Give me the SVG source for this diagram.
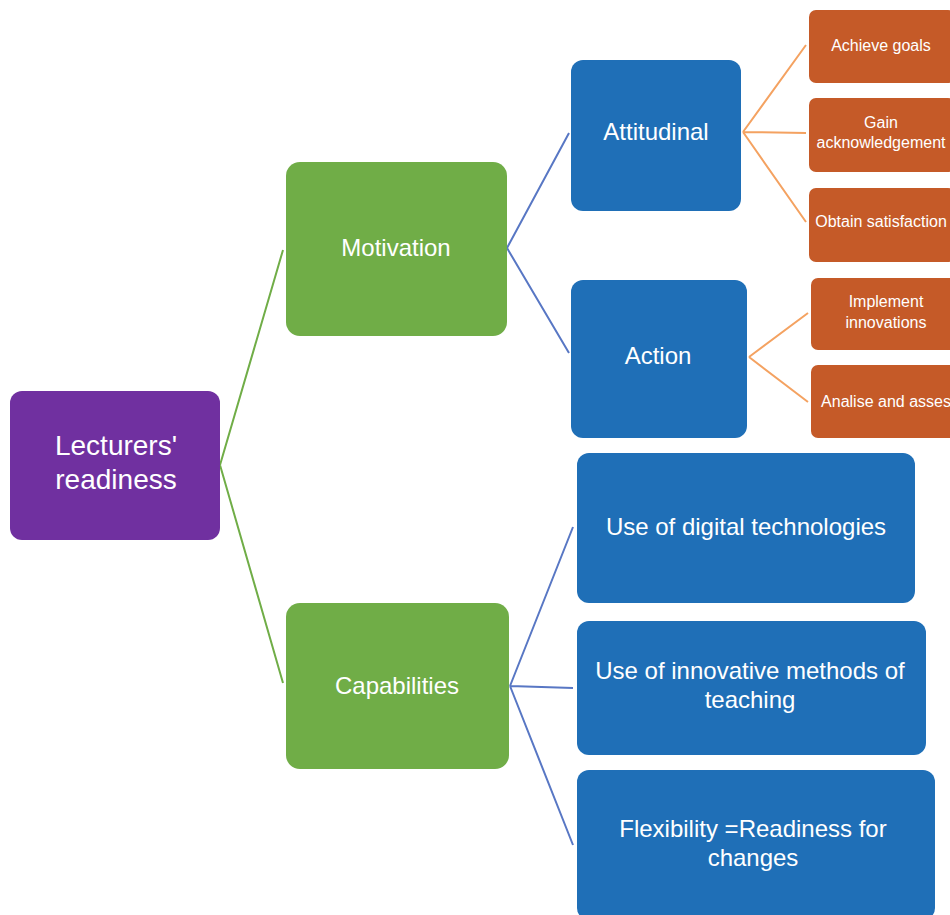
<svg xmlns="http://www.w3.org/2000/svg" width="950" height="915" viewBox="0 0 950 915">
<style>
.t{font-family:"Liberation Sans",Arial,sans-serif;fill:#fff;text-anchor:middle}
.l1{font-size:28px}
.l2{font-size:24px}
.l3{font-size:16px}
.purple{fill:#7030A0}
.green{fill:#70AD47}
.blue{fill:#1F6FB7}
.orange{fill:#C55A28}
.cg{stroke:#70AD47;stroke-width:2;fill:none}
.cb{stroke:#5877C4;stroke-width:2;fill:none}
.co{stroke:#F4A261;stroke-width:2;fill:none}
</style>
<rect width="950" height="915" fill="#fff"/>
<g id="connectors">
<path class="cg" d="M220,465 L283,250 M220,465 L283,683"/>
<path class="cb" d="M507,248 L569,133 M507,248 L569,353"/>
<path class="cb" d="M510,686 L573,527 M510,686 L573,688 M510,686 L573,845"/>
<path class="co" d="M743,132 L806,45 M743,132 L806,133 M743,132 L806,222"/>
<path class="co" d="M749,357 L808,313 M749,357 L808,402"/>
</g>
<g id="lecturers">
<rect class="purple" x="10" y="391" width="210" height="149" rx="12"/>
<text class="t l1" x="116" y="455">Lecturers'</text>
<text class="t l1" x="116" y="489">readiness</text>
</g>
<g id="motivation">
<rect class="green" x="286" y="162" width="221" height="174" rx="14"/>
<text class="t l2" x="396" y="256">Motivation</text>
</g>
<g id="capabilities">
<rect class="green" x="286" y="603" width="223" height="166" rx="14"/>
<text class="t l2" x="397" y="694">Capabilities</text>
</g>
<g id="attitudinal">
<rect class="blue" x="571" y="60" width="170" height="151" rx="12"/>
<text class="t l2" x="656" y="140">Attitudinal</text>
</g>
<g id="action">
<rect class="blue" x="571" y="280" width="176" height="158" rx="12"/>
<text class="t l2" x="658" y="364">Action</text>
</g>
<g id="achieve">
<rect class="orange" x="809" y="10" width="146" height="73" rx="7"/>
<text class="t l3" x="881" y="51">Achieve goals</text>
</g>
<g id="gain">
<rect class="orange" x="809" y="98" width="146" height="74" rx="7"/>
<text class="t l3" x="881" y="128">Gain</text>
<text class="t l3" x="881" y="148">acknowledgement</text>
</g>
<g id="obtain">
<rect class="orange" x="809" y="188" width="146" height="74" rx="7"/>
<text class="t l3" x="881" y="227">Obtain satisfaction</text>
</g>
<g id="implement">
<rect class="orange" x="811" y="278" width="146" height="72" rx="7"/>
<text class="t l3" x="886" y="307">Implement</text>
<text class="t l3" x="886" y="328">innovations</text>
</g>
<g id="analise">
<rect class="orange" x="811" y="365" width="146" height="73" rx="7"/>
<text class="t l3" x="886" y="407">Analise and asses</text>
</g>
<g id="digital">
<rect class="blue" x="577" y="453" width="338" height="150" rx="12"/>
<text class="t l2" x="746" y="535">Use of digital technologies</text>
</g>
<g id="innovative">
<rect class="blue" x="577" y="621" width="349" height="134" rx="12"/>
<text class="t l2" x="750" y="679">Use of innovative methods of</text>
<text class="t l2" x="750" y="708">teaching</text>
</g>
<g id="flexibility">
<rect class="blue" x="577" y="770" width="358" height="150" rx="12"/>
<text class="t l2" x="753" y="837">Flexibility =Readiness for</text>
<text class="t l2" x="753" y="866">changes</text>
</g>
</svg>
